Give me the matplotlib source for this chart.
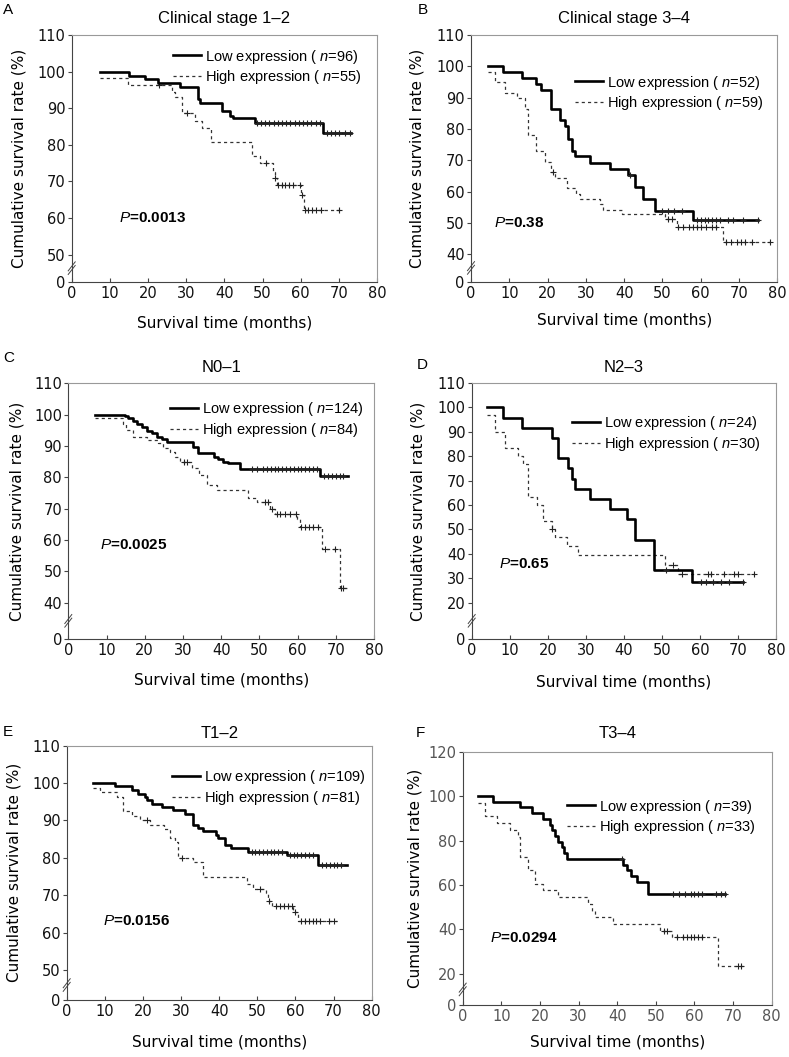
import numpy as np
import matplotlib as mpl
import matplotlib.pyplot as plt

mpl.rcParams['mathtext.fontset'] = 'custom'
mpl.rcParams['mathtext.it'] = 'Liberation Sans:italic'
mpl.rcParams['mathtext.rm'] = 'Liberation Sans'

W, H = 789, 1057

# ---- data (months, survival %) ----
# A : clinical stage 1-2
a_low_t = [7.4, 15.1, 19.3, 22.7, 28.4, 33.2, 33.6, 39.3, 41.4, 42.3, 48.0, 65.9]
a_low_s = [100, 98.9, 97.9, 96.8, 95.7, 92.5, 91.4, 89.3, 88.0, 87.2, 86.0, 83.2]
a_low_end = 73.3
a_low_cens = [48.5, 49.6, 50.7, 51.8, 52.9, 54, 55.1, 56.2, 57.3, 58.4, 59.5, 60.6,
              61.7, 62.8, 63.9, 65, 67, 68, 69, 70, 71.5, 73]
a_high_t = [7.4, 14.8, 26.4, 27.0, 29.0, 32.3, 34.2, 36.4, 47.3, 49.3, 52.8, 53.2,
            53.7, 60.2, 61.0]
a_high_s = [98.2, 96.4, 94.5, 93.0, 88.6, 86.6, 84.5, 80.9, 77.0, 75.0, 72.5, 71.0,
            69.1, 66.4, 62.2]
a_high_end = 71
a_high_cens = [23, 30.1, 51.0, 53.4, 54.1, 55.0, 56, 57, 58, 59.7, 60.4, 61.1, 62,
               63, 64, 65.2, 70.0]

# B : clinical stage 3-4
b_low_t = [4.4, 8.4, 13.2, 17.1, 18.4, 21.0, 23.2, 24.5, 25.4, 26.3, 27.1, 31.0,
           36.3, 41.0, 42.8, 45.0, 48.0, 58.0]
b_low_s = [100, 98.1, 96.2, 94.3, 92.5, 86.4, 82.7, 80.8, 76.9, 73.1, 71.2, 69.2,
           67.3, 65.4, 61.5, 57.7, 53.8, 51.0]
b_low_end = 75
b_low_cens = [41.5, 50, 51.5, 53, 55, 59, 60, 61, 62, 63, 64, 65, 67, 68.5, 71, 75]
b_high_t = [4.4, 6.3, 8.9, 11.9, 14.1, 15.0, 17.1, 19.3, 21.0, 21.9, 25.0, 27.5,
            28.4, 33.7, 34.5, 39.4, 50.7, 53.7, 65.9]
b_high_s = [98.3, 94.9, 91.5, 90.0, 86.4, 78.0, 73.0, 69.5, 66.1, 64.4, 61.0, 59.3,
            57.6, 55.9, 54.2, 52.9, 51.2, 48.8, 43.9]
b_high_end = 78
b_high_cens = [21.3, 51.5, 52.5, 54, 55.5, 57, 58, 59, 60, 61.5, 63, 64, 66.5, 68,
               69.5, 70.5, 71.5, 73.5, 78]

# C : N0-1
c_low_t = [7, 14.8, 15.7, 17, 17.9, 19.2, 20.5, 21.8, 23.1, 24.4, 25.7, 32.7, 34.0,
           38.0, 39.3, 40.6, 41.9, 45.0, 65.9]
c_low_s = [100, 99.5, 99.0, 98.0, 97.0, 96.0, 94.8, 94.0, 93.0, 92.2, 91.2, 89.8,
           87.8, 86.5, 85.8, 85.0, 84.5, 82.8, 80.3]
c_low_end = 73.3
c_low_cens = [48, 49.5, 51, 52, 53, 54, 55, 56, 57, 58, 59, 60, 61, 62, 63, 64, 65,
              67, 68, 69, 70, 71, 72]
c_high_t = [7, 14.4, 15.0, 17.0, 20.5, 23.6, 24.9, 26.6, 28.0, 29.2, 32.3, 34.3,
            36.2, 38.8, 47.1, 49.3, 52.8, 54.1, 59.8, 60.6, 66.3, 71.1]
c_high_s = [99, 97, 95, 93, 92, 91, 89.5, 88, 86.5, 85, 83, 80.7, 77.5, 76, 73.5,
            72, 69.8, 68.3, 66.8, 64.3, 57.1, 44.7]
c_high_end = 73.5
c_high_cens = [30.2, 31, 51.4, 52.3, 53.2, 54.5, 55.4, 56.6, 58, 59.5, 61, 62, 63,
               64, 65.4, 67.2, 69.8, 71.4, 72]

# D : N2-3
d_low_t = [3.9, 8.1, 13.1, 21.0, 22.8, 25.4, 26.3, 27.2, 31.1, 36.4, 40.8, 42.9,
           47.8, 57.8]
d_low_s = [100, 95.8, 91.7, 87.5, 79.2, 75.0, 70.8, 66.7, 62.5, 58.3, 54.2, 45.8,
           33.3, 28.5]
d_low_end = 71.4
d_low_cens = [51, 60.2, 61.7, 63.5, 65.6, 67.6, 71.2]
d_high_t = [3.9, 6.0, 8.8, 12.3, 13.6, 14.9, 17.1, 18.8, 21.0, 21.9, 25.0, 28.0,
            50.8, 54.3]
d_high_s = [96.7, 90.0, 83.3, 80.0, 76.7, 63.3, 60.0, 53.3, 50.0, 46.7, 43.3, 39.6,
            35.6, 31.8]
d_high_end = 74.2
d_high_cens = [21.2, 53.0, 55.2, 62, 63, 66.2, 69, 70, 74.2]

# E : T1-2
e_low_t = [7, 12.7, 17, 18.8, 20.5, 21.0, 22.3, 24.9, 28.0, 31.0, 33.0, 34.5, 35.8,
           39.2, 39.8, 41.5, 43.0, 47.6, 57.7, 66.0]
e_low_s = [100, 99.1, 98.2, 97.2, 96.3, 95.4, 94.5, 93.6, 92.7, 91.7, 88.9, 88.0,
           87.1, 86.2, 85.3, 83.5, 82.6, 81.7, 80.7, 78.0]
e_low_end = 73.4
e_low_cens = [48.5, 49.5, 50.5, 51.5, 52.5, 53.5, 54.5, 55.5, 56.5, 58.5, 59.5, 60.5,
              61.5, 62.5, 63.5, 64.5, 67, 68, 69, 70, 71, 72]
e_high_t = [7, 8.7, 13.1, 14.8, 17.0, 19.2, 21.9, 25.4, 27.1, 28.4, 29.3, 33.2,
            35.8, 47.2, 48.9, 52.4, 52.9, 53.8, 59.4, 60.6]
e_high_s = [98.8, 97.6, 96.4, 92.5, 91.3, 90.1, 88.9, 87.7, 85.4, 84.2, 80.0, 78.8,
            75.0, 73.1, 71.8, 70.5, 68.4, 67.2, 65.4, 63.0]
e_high_end = 71
e_high_cens = [21.0, 30.2, 50.8, 53.0, 55, 56, 57, 58, 59, 59.9, 61.5, 62.5, 63.5,
               64.5, 65.5, 66.5, 68.8, 70]

# F : T3-4
f_low_t = [4, 7.9, 14.8, 17.9, 20.9, 22.6, 23.0, 23.9, 24.8, 25.6, 26.3, 26.9, 41.6,
           42.5, 43.5, 45.0, 48.0]
f_low_s = [100, 97.4, 94.9, 92.3, 89.7, 87.2, 84.6, 82.1, 79.5, 76.9, 74.4, 71.8,
           69.2, 66.7, 64.1, 61.5, 56.0]
f_low_end = 68
f_low_cens = [41.2, 54.5, 56, 57.5, 59, 60, 61, 62, 65.5, 67, 68]
f_high_t = [4, 5.8, 8.8, 12.3, 14.4, 14.8, 17.0, 18.7, 20.9, 24.8, 32.5, 33.4, 34.3,
            39.0, 51.1, 54.1, 66.0]
f_high_s = [97.0, 90.9, 87.9, 84.8, 81.8, 72.7, 66.7, 60.6, 57.6, 54.5, 51.5, 48.5,
            45.5, 42.4, 39.4, 36.4, 23.6]
f_high_end = 72.5
f_high_cens = [52.0, 53.0, 55.5, 57, 58, 59, 60, 61, 62, 71.3, 72.0]

letters = ['A', 'B', 'C', 'D', 'E', 'F']
titles = ['Clinical stage 1\u20132', 'Clinical stage 3\u20134', 'N0\u20131', 'N2\u20133',
          'T1\u20132', 'T3\u20134']
n_low = [96, 52, 124, 24, 109, 39]
n_high = [55, 59, 84, 30, 81, 33]
p_text = ['0.0013', '0.38', '0.0025', '0.65', '0.0156', '0.0294']
p_pos = [(12.4, 60), (6.1, 50), (8.3, 58.4), (7.3, 36), (9.6, 63), (7.1, 36.2)]
yticks = [[0, 50, 60, 70, 80, 90, 100, 110],
          [0, 40, 50, 60, 70, 80, 90, 100, 110],
          [0, 40, 50, 60, 70, 80, 90, 100, 110],
          [0, 20, 30, 40, 50, 60, 70, 80, 90, 100, 110],
          [0, 50, 60, 70, 80, 90, 100, 110],
          [0, 20, 40, 60, 80, 100, 120]]
# (lowest tick above break, size of the break in data units)
breaks = [(50, 7.4), (40, 8.8), (40, 11.6), (20, 14.9), (50, 8.0), (20, 14.0)]

low = [(a_low_t, a_low_s, a_low_end, a_low_cens), (b_low_t, b_low_s, b_low_end, b_low_cens),
       (c_low_t, c_low_s, c_low_end, c_low_cens), (d_low_t, d_low_s, d_low_end, d_low_cens),
       (e_low_t, e_low_s, e_low_end, e_low_cens), (f_low_t, f_low_s, f_low_end, f_low_cens)]
high = [(a_high_t, a_high_s, a_high_end, a_high_cens), (b_high_t, b_high_s, b_high_end, b_high_cens),
        (c_high_t, c_high_s, c_high_end, c_high_cens), (d_high_t, d_high_s, d_high_end, d_high_cens),
        (e_high_t, e_high_s, e_high_end, e_high_cens), (f_high_t, f_high_s, f_high_end, f_high_cens)]

# layout in pixels: left, top, right, bottom of each axes
boxes = [(71.7, 35, 377, 281.7), (471, 35, 777.3, 281.7),
         (68.3, 383.3, 374, 639), (471.7, 383, 776, 639),
         (66.7, 745.7, 371.7, 1000), (462.7, 751.7, 771.7, 1005)]
letter_xy = [(3, 10), (418, 10), (3, 358), (417, 365), (3, 732), (416, 733)]
ylab_x = [19.5, 416.5, 17, 418, 14, 415]
xlab_y = [323, 320, 680, 682, 1042, 1042]
title_y = [18, 18, 367, 368, 733, 734]
# legend: x of handle start, y of first row centre
leg_xy = [(173, 56), (575, 82), (170, 409), (572, 423), (172, 777), (567, 806)]


def make_scale(lo, g):
    def fwd(y):
        y = np.asarray(y, float)
        return np.where(y < lo, y * g / lo, y - lo + g)

    def inv(u):
        u = np.asarray(u, float)
        return np.where(u < g, u * lo / g, u - g + lo)
    return fwd, inv


def km(ax, t, s, end, cens, **kw):
    tt = list(t) + [end]
    ss = list(s) + [s[-1]]
    line, = ax.step(tt, ss, where='post', **kw)
    idx = np.searchsorted(t, cens, side='right') - 1
    cy = np.asarray(s)[idx]
    ax.plot(cens, cy, ls='none', marker='+', ms=5, mew=0.8, color='#222222')
    return line


fig = plt.figure(figsize=(W / 100, H / 100), dpi=100)

for i in range(6):
    l, t, r, b = boxes[i]
    ax = fig.add_axes([l / W, 1 - b / H, (r - l) / W, (b - t) / H])
    lo, g = breaks[i]
    ymax = yticks[i][-1]
    fwd, inv = make_scale(lo, g)
    ax.set_yscale('function', functions=(fwd, inv))
    ax.set_ylim(0, ymax)
    ax.set_xlim(0, 80)
    ax.set_yticks(yticks[i])
    ax.set_yticklabels([str(v) for v in yticks[i]])
    ax.set_xticks(range(0, 81, 10))
    ax.minorticks_off()

    h1 = km(ax, *high[i], color='#333333', lw=0.9, ls=(0, (2.5, 2.5)))
    h0 = km(ax, *low[i], color='black', lw=1.9)

    ax.text(p_pos[i][0], p_pos[i][1], r'$\mathit{P}$=' + p_text[i], fontsize=11,
            family='Liberation Sans', weight='bold', va='center', ha='left')

    lx, ly = leg_xy[i]
    ax.legend([h0, h1],
              [r'Low expression ( $\mathit{n}$=%d)' % n_low[i],
               r'High expression ( $\mathit{n}$=%d)' % n_high[i]],
              loc='upper left', bbox_to_anchor=(lx / W, 1 - (ly - 8.5) / H),
              bbox_transform=fig.transFigure, frameon=False, borderpad=0,
              borderaxespad=0, handlelength=1.9, handletextpad=0.3,
              labelspacing=0.2, prop={'family': 'Liberation Sans', 'size': 10.5})

    ax.text(0.5, (b - title_y[i]) / (b - t), titles[i], transform=ax.transAxes,
            family='Liberation Sans', fontsize=12, ha='center', va='center')
    ax.set_xlabel('Survival time (months)', fontsize=11)
    ax.set_ylabel('Cumulative survival rate (%)', fontsize=11)
    ax.xaxis.set_label_coords(0.5, (b - xlab_y[i]) / (b - t), transform=ax.transAxes)
    ax.xaxis.label.set_va('center')
    ax.yaxis.set_label_coords((ylab_x[i] - l) / (r - l), 0.5)
    ax.yaxis.label.set_va('center')

    for side in ['left', 'bottom']:
        ax.spines[side].set_color('#444444')
    for side in ['top', 'right']:
        ax.spines[side].set_color('#999999')
    tick_col = '#555555' if i == 5 else '#111111'
    ax.tick_params(axis='y', direction='out', length=3, width=0.8, pad=1.5,
                   labelsize=10.5, labelcolor=tick_col, color='#444444')
    ax.tick_params(axis='x', direction='in', length=3, width=0.8, pad=3,
                   labelsize=10.5, labelcolor=tick_col, color='#444444')

    # axis break marks
    yf = fwd(lo / 2) / fwd(ymax)
    dx, dy = 3.5 / (r - l), 4.5 / (b - t)
    for off in (-1.8 / (b - t), 1.8 / (b - t)):
        ax.plot([-dx, dx], [yf - dy + off, yf + dy + off], transform=ax.transAxes,
                color='#444444', lw=0.7, clip_on=False)

    fig.text(letter_xy[i][0] / W, 1 - letter_xy[i][1] / H, letters[i],
             family='Liberation Sans', fontsize=11, va='center', ha='left')

plt.savefig('out.png', dpi=100)
